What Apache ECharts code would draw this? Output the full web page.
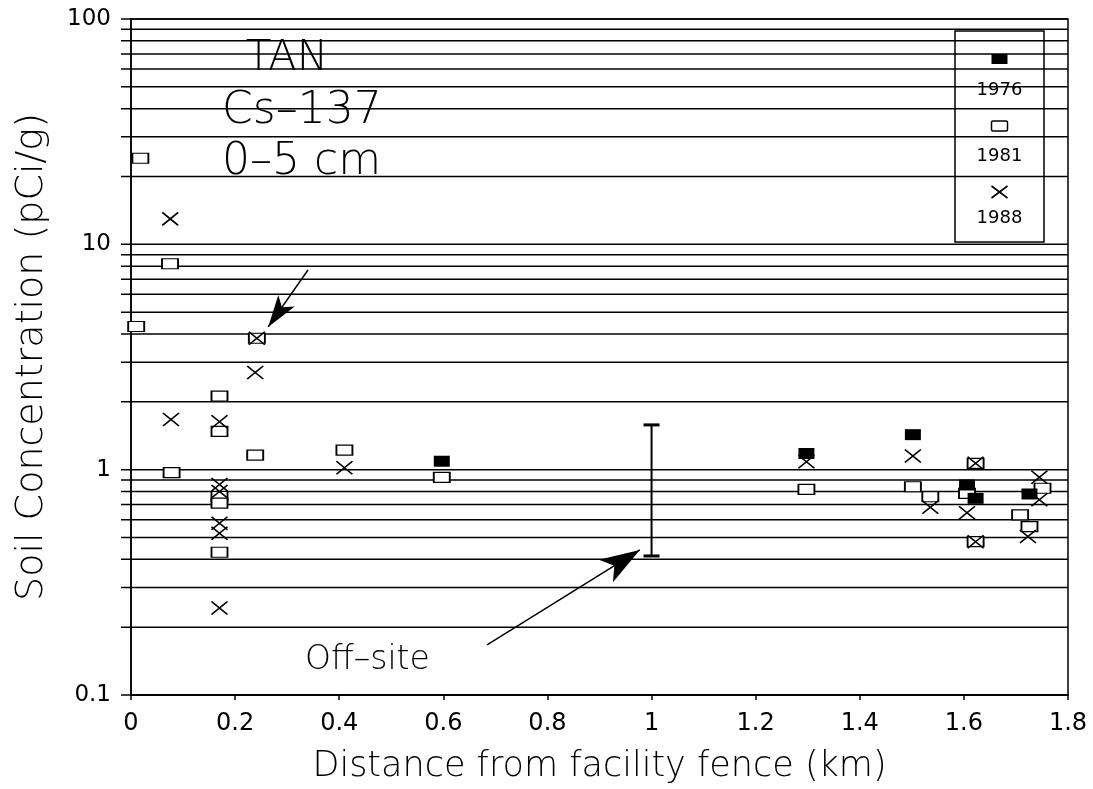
<!DOCTYPE html>
<html>
<head>
<meta charset="utf-8">
<script src="https://cdn.jsdelivr.net/npm/echarts@6/dist/echarts.min.js"></script>
<style>
html,body{margin:0;padding:0;background:#fff;}
#c{width:1093px;height:789px;}
</style>
</head>
<body>
<div id="c"></div>
<script>
// ---- data ----
const years = ['1976', '1981', '1988'];
const xTicks = [0, 0.2, 0.4, 0.6, 0.8, 1, 1.2, 1.4, 1.6, 1.8];
const yMajor = [0.1, 1, 10, 100];
const gridValues = [0.1,0.2,0.3,0.4,0.5,0.6,0.7,0.8,0.9,
                    1,2,3,4,5,6,7,8,9,
                    10,20,30,40,50,60,70,80,90,100];
const data1976 = [[0.597,1.09],[1.2975,1.18],[1.502,1.43],[1.606,0.855],[1.6225,0.746],[1.726,0.78]];
const data1981 = [[0.018,24.1],[0.075,8.2],[0.010,4.32],[0.2418,3.83],[0.170,2.12],[0.170,1.48],
                  [0.2386,1.16],[0.078,0.97],[0.41,1.22],[0.170,0.76],[0.170,0.71],[0.170,0.43],
                  [0.597,0.925],[1.2975,0.818],[1.502,0.84],[1.5355,0.758],[1.6225,1.067],
                  [1.606,0.785],[1.6225,0.479],[1.751,0.827],[1.708,0.63],[1.726,0.559]];
const data1988 = [[0.0754,12.97],[0.2418,3.83],[0.2386,2.70],[0.0768,1.67],[0.170,1.63],[0.41,1.02],
                  [0.170,0.86],[0.170,0.80],[0.170,0.578],[0.170,0.522],[0.170,0.243],
                  [1.2975,1.085],[1.502,1.15],[1.5355,0.681],[1.6225,1.067],[1.606,0.644],
                  [1.6225,0.479],[1.745,0.925],[1.745,0.735],[1.723,0.505]];
const offsiteRange = [[1, 0.414, 1.58]];
const arrowLines = [
  [[0.340, 7.69], [0.2635, 4.30]],
  [[0.684, 0.1668], [0.9775, 0.4406]]
];
const labels = {tan: 'TAN', iso: 'Cs–137', depth: '0–5 cm', offsite: 'Off–site'};
const xName = 'Distance from facility fence (km)';
const yName = 'Soil Concentration (pCi/g)';

// ---- chart ----
const FONT = 'DejaVu Sans';
const chart = echarts.init(document.getElementById('c'), null, {renderer: 'canvas'});
const xMin = xTicks[0], xMax = xTicks[xTicks.length - 1];
const crossPath = 'path://M0,0L10,8M10,0L0,8';

function legendGraphic() {
  const cx = 999.5;
  const children = [{
    type: 'rect', shape: {x: 955, y: 31, width: 89, height: 211},
    style: {fill: '#fff', stroke: '#000', lineWidth: 1.5}
  }];
  const symY = [59, 126, 192], txtY = [90, 156, 218];
  years.forEach((yr, i) => {
    if (i === 0) {
      children.push({type: 'rect', shape: {x: cx - 8, y: symY[i] - 5, width: 16, height: 10},
        style: {fill: '#000'}});
    } else if (i === 1) {
      children.push({type: 'rect', shape: {x: cx - 8, y: symY[i] - 5, width: 16, height: 10, r: 1.5},
        style: {fill: 'none', stroke: '#000', lineWidth: 1.5}});
    } else {
      children.push({type: 'polyline', shape: {points: [[cx - 8, symY[i] - 6], [cx + 8, symY[i] + 6]]},
        style: {stroke: '#000', lineWidth: 1.6}});
      children.push({type: 'polyline', shape: {points: [[cx + 8, symY[i] - 6], [cx - 8, symY[i] + 6]]},
        style: {stroke: '#000', lineWidth: 1.6}});
    }
    children.push({type: 'text', x: cx, y: txtY[i],
      style: {text: yr, fill: '#000', font: '18px "' + FONT + '"', align: 'center', verticalAlign: 'middle'}});
  });
  return {type: 'group', children: children, z: 100};
}

const option = {
  animation: false,
  backgroundColor: '#fff',
  grid: {left: 131, right: 25, top: 19, bottom: 94, show: true, borderColor: '#000', borderWidth: 1.5, backgroundColor: 'transparent'},
  xAxis: {
    type: 'value', min: xMin, max: xMax, interval: 0.2,
    name: xName, nameLocation: 'middle', nameGap: 54,
    nameTextStyle: {fontFamily: FONT, fontWeight: 200, fontSize: 35, color: '#000'},
    axisLine: {show: true, lineStyle: {color: '#000', width: 1.5}},
    axisTick: {show: true, length: 5, inside: false, lineStyle: {color: '#000', width: 1.5}},
    axisLabel: {fontFamily: FONT, fontSize: 24, color: '#000', margin: 17},
    splitLine: {show: false}
  },
  yAxis: {
    type: 'log', logBase: 10, min: 0.1, max: 100,
    name: yName, nameLocation: 'middle', nameGap: 80,
    nameTextStyle: {fontFamily: FONT, fontWeight: 200, fontSize: 38, color: '#000'},
    axisLine: {show: true, lineStyle: {color: '#000', width: 1.5}},
    axisTick: {show: false},
    axisLabel: {fontFamily: FONT, fontSize: 23, color: '#000', margin: 20,
      formatter: v => String(v)},
    splitLine: {show: false}
  },
  graphic: [
    legendGraphic(),
    {type: 'text', x: 287, y: 59, z: 50, style: {text: labels.tan, fill: '#000', font: '200 42px "' + FONT + '"', align: 'center', verticalAlign: 'middle'}},
    {type: 'text', x: 222, y: 112, z: 50, style: {text: labels.iso, fill: '#000', font: '200 44px "' + FONT + '"', align: 'left', verticalAlign: 'middle'}},
    {type: 'text', x: 222, y: 163, z: 50, style: {text: labels.depth, fill: '#000', font: '200 44px "' + FONT + '"', align: 'left', verticalAlign: 'middle'}},
    {type: 'text', x: 305, y: 660, z: 50, style: {text: labels.offsite, fill: '#000', font: '200 33px "' + FONT + '"', align: 'left', verticalAlign: 'middle'}}
  ],
  series: [
    {
      name: 'grid', type: 'custom', silent: true, clip: false, z: 1,
      data: gridValues.map(v => [xMin, v]),
      renderItem: (params, api) => {
        const v = api.value(1);
        const p0 = api.coord([xMin, v]);
        const p1 = api.coord([xMax, v]);
        return {type: 'line', shape: {x1: p0[0] - 10, y1: p0[1], x2: p1[0], y2: p1[1]},
          style: {stroke: '#000', lineWidth: 1.5}};
      }
    },
    {
      name: 'offsite', type: 'custom', silent: true, clip: false, z: 3,
      data: offsiteRange,
      renderItem: (params, api) => {
        const x = api.value(0);
        const lo = api.coord([x, api.value(1)]);
        const hi = api.coord([x, api.value(2)]);
        const w = 8;
        return {type: 'group', children: [
          {type: 'line', shape: {x1: lo[0], y1: lo[1], x2: hi[0], y2: hi[1]}, style: {stroke: '#000', lineWidth: 2}},
          {type: 'line', shape: {x1: hi[0] - w, y1: hi[1], x2: hi[0] + w, y2: hi[1]}, style: {stroke: '#000', lineWidth: 3}},
          {type: 'line', shape: {x1: lo[0] - w, y1: lo[1], x2: lo[0] + w, y2: lo[1]}, style: {stroke: '#000', lineWidth: 3}}
        ]};
      },
      markLine: {
        silent: true, animation: false,
        label: {show: false},
        lineStyle: {color: '#000', width: 1.5, type: 'solid', opacity: 1},
        data: arrowLines.map((a, i) => [
          {coord: a[0], symbol: 'none'},
          {coord: a[1], symbol: 'arrow', symbolSize: i === 0 ? [15, 32] : [20, 40]}
        ])
      }
    },
    {
      name: years[1], type: 'scatter', z: 4, clip: false,
      symbol: 'rect', symbolSize: [16, 10],
      itemStyle: {color: '#fff', borderColor: '#000', borderWidth: 1.5, opacity: 1},
      data: data1981
    },
    {
      name: years[0], type: 'scatter', z: 5, clip: false,
      symbol: 'rect', symbolSize: [16, 11],
      itemStyle: {color: '#000', opacity: 1},
      data: data1976
    },
    {
      name: years[2], type: 'scatter', z: 6, clip: false,
      symbol: crossPath, symbolSize: [16, 13], symbolKeepAspect: false,
      itemStyle: {color: 'none', borderColor: '#000', borderWidth: 1.6, opacity: 1},
      data: data1988
    }
  ]
};
chart.setOption(option);
</script>
</body>
</html>
